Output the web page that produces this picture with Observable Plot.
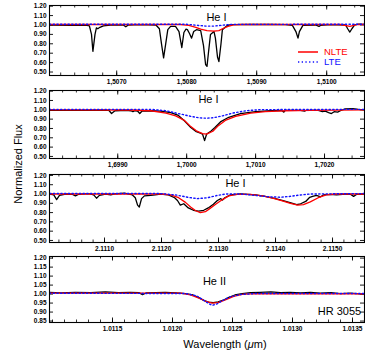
<!DOCTYPE html>
<html>
<head>
<meta charset="utf-8">
<script src="https://cdn.jsdelivr.net/npm/d3@7"></script>
<script src="https://cdn.jsdelivr.net/npm/@observablehq/plot@0.6"></script>
<style>
  html, body { margin: 0; padding: 0; background: #fff; }
  #wrap { position: relative; width: 365px; height: 354px; font-family: "Liberation Sans", Arial, sans-serif; }
  #wrap svg.plot { position: absolute; left: 0; }
  .lab { position: absolute; white-space: nowrap; font-size: 11px; color: #000; }
</style>
</head>
<body>
<div id="wrap"></div>
<script>
// ---------- Panel 1: He I 1.5083 µm ----------
const p1Domain = [1.50604, 1.51054];
const p1XTicks = [1.5070, 1.5080, 1.5090, 1.5100];
const p1XLabels = ["1,5070", "1,5080", "1,5090", "1,5100"];
const p1Obs = [
  [1.50604,0.998],[1.50634,0.997],[1.50656,0.998],[1.50661,0.99],[1.50664,0.90],[1.50666,0.72],
  [1.50669,0.90],[1.50671,0.97],[1.50673,0.96],[1.50676,0.975],[1.50681,0.99],[1.50691,0.998],
  [1.50710,0.998],[1.50713,0.98],[1.50716,0.998],[1.50734,1.003],[1.50756,1.00],[1.50761,0.96],
  [1.50764,0.80],[1.50767,0.65],[1.50770,0.80],[1.50773,0.95],[1.50777,0.985],[1.50784,0.985],
  [1.50789,0.93],[1.50793,0.76],[1.50796,0.92],[1.50799,0.955],[1.50801,0.95],[1.50804,0.91],
  [1.50807,0.86],[1.50810,0.93],[1.50814,0.95],[1.50820,0.94],[1.50824,0.78],[1.50827,0.58],
  [1.50829,0.56],[1.50831,0.70],[1.50834,0.90],[1.50839,0.93],[1.50841,0.86],[1.50844,0.66],
  [1.50846,0.61],[1.50849,0.80],[1.50851,0.95],[1.50857,0.99],[1.50863,1.003],[1.50891,1.005],
  [1.50920,1.005],[1.50941,1.003],[1.50951,0.995],[1.50956,0.93],[1.50959,0.86],[1.50961,0.93],
  [1.50966,0.995],[1.50984,1.00],[1.50989,0.985],[1.50991,0.995],[1.51006,1.003],[1.51027,1.00],
  [1.51030,0.96],[1.51033,0.925],[1.51036,0.96],[1.51040,1.00],[1.51046,1.01],[1.51054,1.005]
];
const p1Nlte = [
  [1.50604,1.005],[1.50791,1.005],[1.50803,0.995],[1.50813,0.975],[1.50820,0.955],[1.50829,0.94],
  [1.50839,0.935],[1.50846,0.94],[1.50851,0.96],[1.50859,0.985],[1.50867,1.0],[1.50877,1.005],
  [1.51020,1.005],[1.51033,0.985],[1.51043,1.005],[1.51054,1.005]
];
const p1Lte = [
  [1.50604,1.008],[1.50799,1.008],[1.50813,0.998],[1.50827,0.988],[1.50839,0.988],[1.50851,0.998],
  [1.50863,1.006],[1.51054,1.008]
];

// ---------- Panel 2: He I 1.7002 µm ----------
const p2Domain = [1.69801, 1.70258];
const p2XTicks = [1.6990, 1.7000, 1.7010, 1.7020];
const p2XLabels = ["1,6990", "1,7000", "1,7010", "1,7020"];
const p2Obs = [
  [1.69801,0.995],[1.69846,0.995],[1.69875,0.997],[1.69887,0.995],[1.69891,0.96],[1.69896,0.99],
  [1.69912,0.995],[1.69919,0.99],[1.69922,0.98],[1.69925,0.99],[1.69929,0.985],[1.69932,0.96],
  [1.69935,0.985],[1.69948,0.99],[1.69962,0.985],[1.69977,0.97],[1.69988,0.94],[1.69997,0.88],
  [1.70006,0.81],[1.70014,0.765],[1.70020,0.75],[1.70023,0.74],[1.70026,0.67],[1.70029,0.74],
  [1.70035,0.77],[1.70041,0.81],[1.70049,0.87],[1.70061,0.92],[1.70078,0.96],[1.70100,0.98],
  [1.70122,0.99],[1.70138,0.993],[1.70141,0.975],[1.70143,0.993],[1.70165,0.995],[1.70171,0.985],
  [1.70174,0.995],[1.70191,0.995],[1.70197,0.98],[1.70201,0.985],[1.70206,0.97],[1.70210,0.96],
  [1.70214,0.98],[1.70219,0.975],[1.70223,0.99],[1.70230,1.01],[1.70241,1.012],[1.70249,1.005],
  [1.70258,1.00]
];
const p2Nlte = [
  [1.69801,1.00],[1.69919,0.998],[1.69948,0.99],[1.69970,0.965],[1.69984,0.935],[1.69996,0.89],
  [1.70006,0.82],[1.70014,0.775],[1.70023,0.745],[1.70029,0.74],[1.70038,0.77],[1.70046,0.83],
  [1.70057,0.89],[1.70071,0.93],[1.70093,0.965],[1.70114,0.98],[1.70143,0.99],[1.70180,0.995],
  [1.70258,1.00]
];
const p2Lte = [
  [1.69801,1.005],[1.69948,1.005],[1.69970,0.99],[1.69988,0.96],[1.70006,0.93],[1.70017,0.915],
  [1.70028,0.91],[1.70039,0.915],[1.70052,0.935],[1.70067,0.965],[1.70086,0.99],[1.70107,1.002],
  [1.70258,1.005]
];

// ---------- Panel 3: He I 2.1126 / 2.1138 µm ----------
const p3Domain = [2.110035, 2.115561];
const p3XTicks = [2.1110, 2.1120, 2.1130, 2.1140, 2.1150];
const p3XLabels = ["2.1110", "2.1120", "2.1130", "2.1140", "2.1150"];
const p3Obs = [
  [2.11004,1.00],[2.11011,0.99],[2.11016,0.94],[2.11021,0.985],[2.11032,1.0],[2.11044,0.995],
  [2.11049,0.98],[2.11054,0.995],[2.11072,1.005],[2.11081,0.99],[2.11086,0.955],[2.11091,0.985],
  [2.11102,1.0],[2.11111,0.99],[2.11116,1.0],[2.11135,1.01],[2.11149,0.99],[2.11154,0.96],
  [2.11158,0.88],[2.11161,0.86],[2.11165,0.95],[2.11170,0.98],[2.11181,0.985],[2.11189,0.99],
  [2.11198,1.00],[2.11212,0.99],[2.11223,0.96],[2.11228,0.93],[2.11233,0.88],[2.11239,0.895],
  [2.11247,0.85],[2.11256,0.825],[2.11265,0.815],[2.11274,0.825],[2.11282,0.85],[2.11291,0.89],
  [2.11298,0.93],[2.11304,0.95],[2.11307,0.935],[2.11311,0.96],[2.11321,0.99],[2.11339,1.00],
  [2.11365,0.99],[2.11382,0.975],[2.11400,0.95],[2.11418,0.92],[2.11430,0.90],[2.11437,0.885],
  [2.11444,0.895],[2.11453,0.92],[2.11460,0.965],[2.11465,0.975],[2.11472,0.985],[2.11479,0.97],
  [2.11484,0.99],[2.11496,0.995],[2.11507,0.99],[2.11523,1.0],[2.11532,0.995],[2.11537,0.975],
  [2.11542,0.995],[2.11556,1.00]
];
const p3Nlte = [
  [2.11004,1.00],[2.11198,1.00],[2.11216,0.99],[2.11230,0.96],[2.11242,0.91],[2.11251,0.86],
  [2.11260,0.82],[2.11268,0.80],[2.11277,0.81],[2.11284,0.84],[2.11295,0.89],[2.11307,0.94],
  [2.11318,0.98],[2.11332,0.995],[2.11356,0.995],[2.11377,0.98],[2.11395,0.955],[2.11412,0.925],
  [2.11426,0.90],[2.11439,0.88],[2.11449,0.885],[2.11461,0.915],[2.11475,0.96],[2.11489,0.99],
  [2.11505,1.00],[2.11556,1.00]
];
const p3Lte = [
  [2.11004,1.005],[2.11198,1.005],[2.11225,0.99],[2.11246,0.965],[2.11263,0.95],[2.11281,0.96],
  [2.11298,0.985],[2.11312,1.0],[2.11339,1.0],[2.11365,0.985],[2.11388,0.97],[2.11409,0.965],
  [2.11426,0.975],[2.11444,0.99],[2.11461,1.0],[2.11556,1.005]
];

// ---------- Panel 4: He II 1.0124 µm ----------
const p4Domain = [1.010975, 1.0136];
const p4XTicks = [1.0115, 1.0120, 1.0125, 1.0130, 1.0135];
const p4XLabels = ["1.0115", "1.0120", "1.0125", "1.0130", "1.0135"];
const p4Obs = [
  [1.010975,1.01],[1.01107,1.007],[1.01119,1.01],[1.01132,1.008],[1.01144,1.012],[1.01155,1.008],
  [1.01165,1.01],[1.01172,1.008],[1.01175,0.997],[1.01178,1.006],[1.01186,1.008],[1.01194,1.01],
  [1.01203,1.006],[1.01211,1.003],[1.01217,0.995],[1.01222,0.98],[1.01226,0.965],[1.01230,0.955],
  [1.01234,0.952],[1.01238,0.957],[1.01243,0.968],[1.01247,0.982],[1.01252,0.995],[1.01258,1.003],
  [1.01265,1.008],[1.01273,1.01],[1.01282,1.012],[1.01290,1.008],[1.01298,1.01],[1.01307,1.006],
  [1.01315,1.01],[1.01323,1.005],[1.01332,1.008],[1.01340,1.003],[1.01348,1.005],[1.01360,1.00]
];
const p4Nlte = [
  [1.010975,1.005],[1.01207,1.005],[1.01215,0.995],[1.01222,0.978],[1.01228,0.96],[1.01233,0.95],
  [1.01238,0.953],[1.01244,0.968],[1.01251,0.987],[1.01258,0.998],[1.01269,1.003],[1.01360,1.002]
];
const p4Lte = [
  [1.010975,1.005],[1.01211,1.003],[1.01220,0.99],[1.01225,0.97],[1.01230,0.948],[1.01233,0.937],
  [1.01237,0.945],[1.01242,0.965],[1.01248,0.985],[1.01257,0.998],[1.01269,1.003],[1.01360,1.003]
];

// y ticks
const yTicksA = [0.50, 0.60, 0.70, 0.80, 0.90, 1.00, 1.10, 1.20];
const yTicksB = [0.85, 0.90, 0.95, 1.00, 1.05, 1.10, 1.15, 1.20];

const lineLabels = ["He I", "He I", "He I", "He II"];
const starName = "HR 3055";
const seriesNames = ["NLTE", "LTE"];

// ---------- layout ----------
const W = 365, ML = 49, MR = 1, MT = 4, MB = 16;
const FW = W - ML - MR;
const panels = [
  {top: 5,   h: 70, xd: p1Domain, xt: p1XTicks, xl: p1XLabels, minor: 0.0002, yd: [0.463, 1.207], yt: yTicksA, obs: p1Obs, nlte: p1Nlte, lte: p1Lte, lab: lineLabels[0], lx: 216, ly: 12},
  {top: 90,  h: 68, xd: p2Domain, xt: p2XTicks, xl: p2XLabels, minor: 0.0002, yd: [0.478, 1.207], yt: yTicksA, obs: p2Obs, nlte: p2Nlte, lte: p2Lte, lab: lineLabels[1], lx: 208, ly: 9},
  {top: 174, h: 68, xd: p3Domain, xt: p3XTicks, xl: p3XLabels, minor: 0.0002, yd: [0.478, 1.210], yt: yTicksA, obs: p3Obs, nlte: p3Nlte, lte: p3Lte, lab: lineLabels[2], lx: 235, ly: 9},
  {top: 256, h: 66, xd: p4Domain, xt: p4XTicks, xl: p4XLabels, minor: 0.0001, yd: [0.842, 1.209], yt: yTicksB, obs: p4Obs, nlte: p4Nlte, lte: p4Lte, lab: lineLabels[3], lx: 214, ly: 25}
];

const wrap = document.getElementById("wrap");
const fmtY = d3.format(".2f");

panels.forEach((p, i) => {
  const minorTicks = d3.range(Math.ceil(p.xd[0] / p.minor - 1e-6), Math.floor(p.xd[1] / p.minor + 1e-6) + 1).map(k => k * p.minor);
  const labelMap = new Map(p.xt.map((v, j) => [v.toFixed(4), p.xl[j]]));
  const marks = [
    Plot.ruleX(minorTicks, {x: d => d, insetTop: p.h - 2.5, stroke: "black", strokeWidth: 0.8}),
    Plot.ruleX(minorTicks, {x: d => d, insetBottom: p.h - 2.5, stroke: "black", strokeWidth: 0.8}),
    Plot.ruleX(p.xt, {x: d => d, insetTop: p.h - 4.5, stroke: "black", strokeWidth: 0.9}),
    Plot.ruleX(p.xt, {x: d => d, insetBottom: p.h - 4.5, stroke: "black", strokeWidth: 0.9}),
    Plot.ruleY(p.yt, {y: d => d, insetRight: FW - 4, stroke: "black", strokeWidth: 0.9}),
    Plot.ruleY(p.yt, {y: d => d, insetLeft: FW - 4, stroke: "black", strokeWidth: 0.9}),
    Plot.line(p.obs, {x: d => d[0], y: d => d[1], stroke: "black", strokeWidth: 1.3, clip: true}),
    Plot.line(p.nlte, {x: d => d[0], y: d => d[1], stroke: "#ff0000", strokeWidth: 1.3, clip: true}),
    Plot.line(p.lte, {x: d => d[0], y: d => d[1], stroke: "#1010ff", strokeWidth: 1.4, strokeDasharray: "1.3,2.4", clip: true}),
    Plot.text([p.lab], {frameAnchor: "top-left", dx: p.lx - ML, dy: p.ly, text: d => d, textAnchor: "middle", lineAnchor: "middle", fontSize: 11, fontWeight: "normal", fill: "black"}),
    Plot.frame({stroke: "black", strokeWidth: 1.1})
  ];
  if (i === 3) {
    marks.push(Plot.text([starName], {frameAnchor: "top-left", dx: 339 - ML, dy: 55, text: d => d, textAnchor: "middle", lineAnchor: "middle", fontSize: 11, fontWeight: "normal", fill: "black"}));
  }
  const svg = Plot.plot({
    width: W,
    height: MT + p.h + MB,
    marginLeft: ML, marginRight: MR, marginTop: MT, marginBottom: MB,
    style: {fontSize: "6.5px", fontWeight: "bold", fontFamily: "'Liberation Sans', Arial, sans-serif", background: "transparent", overflow: "visible"},
    x: {domain: p.xd, ticks: p.xt, tickFormat: d => labelMap.get(d.toFixed(4)), tickSize: 0, tickPadding: 4, label: null},
    y: {domain: p.yd, ticks: p.yt, tickFormat: fmtY, tickSize: 0, tickPadding: 3, label: null},
    marks
  });
  svg.classList.add("plot");
  svg.style.top = (p.top - MT) + "px";
  wrap.appendChild(svg);
});

// legend (panel 1)
const ns = "http://www.w3.org/2000/svg";
const leg = document.createElementNS(ns, "svg");
leg.setAttribute("width", 70); leg.setAttribute("height", 24);
leg.style.position = "absolute"; leg.style.left = "296px"; leg.style.top = "45px";
leg.innerHTML =
  `<line x1="2" x2="22" y1="7" y2="7" stroke="#ff0000" stroke-width="1.5"/>` +
  `<text x="28" y="7" dy="0.35em" fill="#ff0000" font-size="9.5" font-family="Liberation Sans, Arial, sans-serif">${seriesNames[0]}</text>` +
  `<line x1="2" x2="22" y1="17" y2="17" stroke="#1010ff" stroke-width="1.5" stroke-dasharray="1.3,2.4"/>` +
  `<text x="28" y="17" dy="0.35em" fill="#1010ff" font-size="9.5" font-family="Liberation Sans, Arial, sans-serif">${seriesNames[1]}</text>`;
wrap.appendChild(leg);

// axis titles
const yt = document.createElement("div");
yt.className = "lab";
yt.textContent = "Normalized Flux";
yt.style.left = "18px"; yt.style.top = "164px";
yt.style.transform = "translate(-50%, -50%) rotate(-90deg)";
wrap.appendChild(yt);

const xt = document.createElement("div");
xt.className = "lab";
xt.innerHTML = "Wavelength (<i>μ</i>m)";
xt.style.left = "225px"; xt.style.top = "344px";
xt.style.transform = "translate(-50%, -50%)";
wrap.appendChild(xt);
</script>
</body>
</html>
